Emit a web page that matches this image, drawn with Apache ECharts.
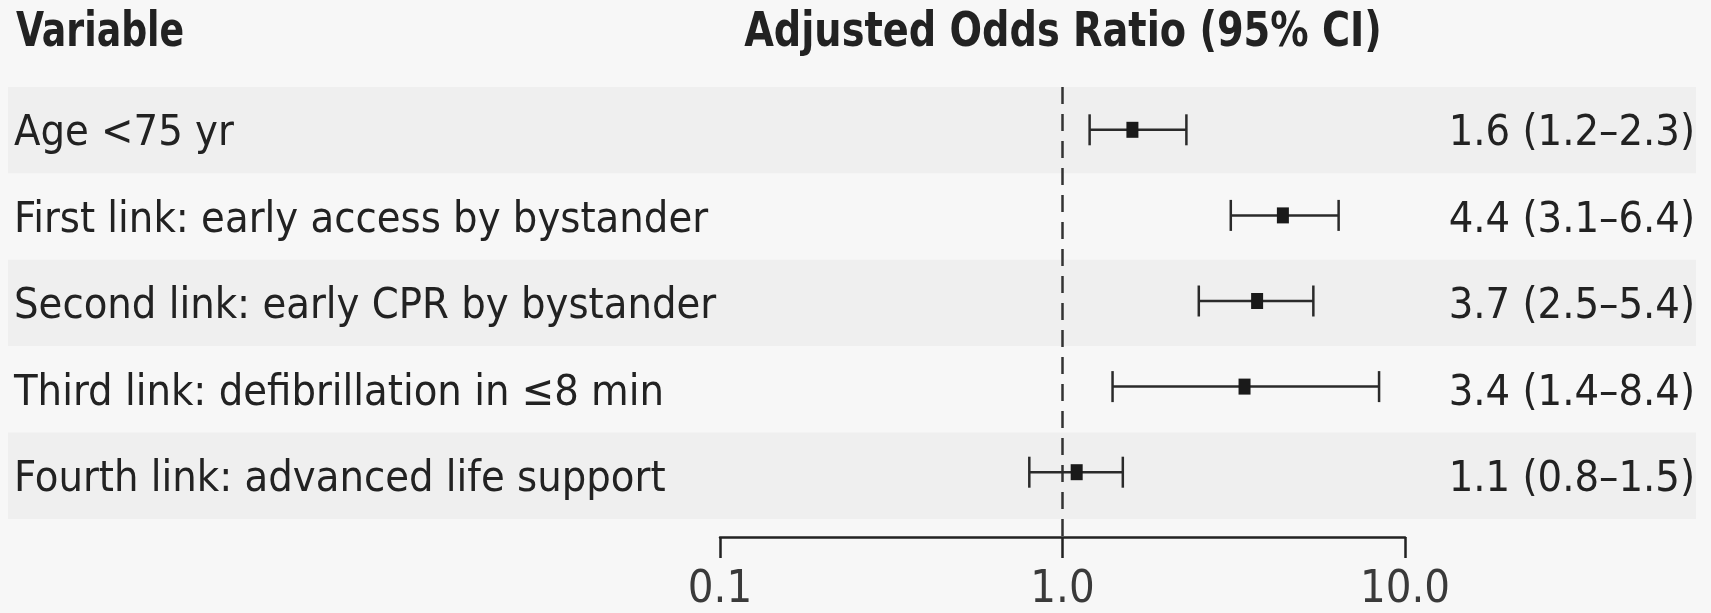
<!DOCTYPE html>
<html><head><meta charset="utf-8">
<script src="https://cdn.jsdelivr.net/npm/echarts@6/dist/echarts.min.js"></script>
<style>html,body{margin:0;padding:0;background:#f7f7f7}#c{width:1711px;height:613px}</style>
</head><body><div id="c"></div>
<script>
const categories = [
  'Age <75 yr',
  'First link: early access by bystander',
  'Second link: early CPR by bystander',
  'Third link: defibrillation in \u22648 min',
  'Fourth link: advanced life support'
];
const oddsRatios = [1.6, 4.4, 3.7, 3.4, 1.1];
const ciLow = [1.2, 3.1, 2.5, 1.4, 0.8];
const ciHigh = [2.3, 6.4, 5.4, 8.4, 1.5];
const valueLabels = ['1.6 (1.2\u20132.3)', '4.4 (3.1\u20136.4)', '3.7 (2.5\u20135.4)', '3.4 (1.4\u20138.4)', '1.1 (0.8\u20131.5)'];
const axisMin = 0.1, axisMax = 10;
const tickLabels = {'0.1': '0.1', '1': '1.0', '10': '10.0'};
const referenceValue = 1;
const headerLeft = 'Variable';
const headerCenter = 'Adjusted Odds Ratio (95% CI)';

const FONT = '"DejaVu Sans Condensed", "DejaVu Sans", sans-serif';
const INK = '#222222';
const AXIS_OFFSET = 22;

const rowLabelRich = {t: {fontFamily: FONT, fontSize: 43, color: INK, padding: [8, 0, 0, 0]}};

const chart = echarts.init(document.getElementById('c'), null, {renderer: 'canvas'});
const option = {
  backgroundColor: '#f7f7f7',
  animation: false,
  graphic: [
    {type: 'text', x: 16, y: 34, scaleX: 0.84, z: 10,
     style: {text: headerLeft, fontFamily: FONT, fontSize: 48, fontWeight: 'bold', fill: INK, align: 'left', verticalAlign: 'middle'}},
    {type: 'text', x: 1063, y: 34, scaleX: 0.887, z: 10,
     style: {text: headerCenter, fontFamily: FONT, fontSize: 48, fontWeight: 'bold', fill: INK, align: 'center', verticalAlign: 'middle'}}
  ],
  grid: [
    {left: 720, right: 306, top: 87, bottom: 94},
    {left: 8, right: 15, top: 87, bottom: 94}
  ],
  xAxis: [
    {
      type: 'log', logBase: 10, min: axisMin, max: axisMax, gridIndex: 0,
      position: 'bottom', offset: AXIS_OFFSET,
      axisLine: {show: true, lineStyle: {color: INK, width: 2.5}},
      axisTick: {show: true, length: 21, lineStyle: {color: INK, width: 2.5}},
      splitLine: {show: false},
      minorTick: {show: false},
      axisLabel: {
        margin: 31, fontFamily: FONT, fontSize: 45, color: '#3a3a3a',
        formatter: v => tickLabels[String(+v.toPrecision(3))] || String(v)
      }
    },
    {type: 'value', min: 0, max: 1, gridIndex: 1, show: false}
  ],
  yAxis: [
    {type: 'category', data: categories, inverse: true, gridIndex: 0, show: false},
    {
      type: 'category', data: categories, inverse: true, gridIndex: 1, position: 'left',
      axisLine: {show: false}, axisTick: {show: false}, splitLine: {show: false},
      splitArea: {show: true, areaStyle: {color: ['#efefef', '#f7f7f7']}},
      axisLabel: {inside: true, margin: 6, formatter: v => '{t|' + v + '}', rich: rowLabelRich}
    },
    {
      type: 'category', data: valueLabels, inverse: true, gridIndex: 1, position: 'right',
      axisLine: {show: false}, axisTick: {show: false}, splitLine: {show: false}, splitArea: {show: false},
      axisLabel: {inside: true, margin: 1, formatter: v => '{t|' + v + '}', rich: rowLabelRich}
    }
  ],
  series: [
    {
      type: 'custom', xAxisIndex: 0, yAxisIndex: 0, z: 2,
      data: [[referenceValue, 0]],
      encode: {x: 0, y: 1},
      renderItem(params, api) {
        const cs = params.coordSys;
        const x = api.coord([api.value(0), 0])[0];
        return {
          type: 'line',
          shape: {x1: x, y1: cs.y, x2: x, y2: cs.y + cs.height + AXIS_OFFSET},
          style: {stroke: '#333', lineWidth: 2.5, lineDash: [17, 10]}
        };
      }
    },
    {
      type: 'custom', xAxisIndex: 0, yAxisIndex: 0, z: 3,
      data: categories.map((c, i) => [ciLow[i], ciHigh[i], oddsRatios[i], i]),
      encode: {x: [0, 1, 2], y: 3},
      renderItem(params, api) {
        const row = api.value(3);
        const lo = api.coord([api.value(0), row]);
        const hi = api.coord([api.value(1), row]);
        const mid = api.coord([api.value(2), row]);
        const cap = 15.5;
        const st = {stroke: '#2a2a2a', lineWidth: 2.5};
        return {
          type: 'group',
          children: [
            {type: 'line', shape: {x1: lo[0], y1: lo[1], x2: hi[0], y2: hi[1]}, style: st},
            {type: 'line', shape: {x1: lo[0], y1: lo[1] - cap, x2: lo[0], y2: lo[1] + cap}, style: st},
            {type: 'line', shape: {x1: hi[0], y1: hi[1] - cap, x2: hi[0], y2: hi[1] + cap}, style: st},
            {type: 'rect', shape: {x: mid[0] - 6, y: mid[1] - 8, width: 12, height: 16}, style: {fill: '#1a1a1a'}}
          ]
        };
      }
    }
  ]
};
chart.setOption(option);
</script>
</body></html>
